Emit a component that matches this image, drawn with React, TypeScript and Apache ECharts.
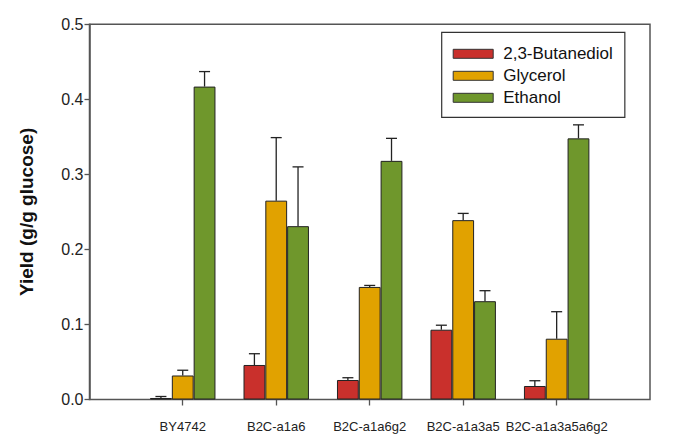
import React, { useEffect, useRef } from "react";
import * as echarts from "echarts";

const categories = ["BY4742", "B2C-a1a6", "B2C-a1a6g2", "B2C-a1a3a5", "B2C-a1a3a5a6g2"];
const seriesNames = ["2,3-Butanediol", "Glycerol", "Ethanol"];
const butanediol = [0.002, 0.046, 0.026, 0.093, 0.018];
const butanediolErr = [0.002, 0.015, 0.003, 0.006, 0.007];
const glycerol = [0.032, 0.265, 0.15, 0.239, 0.081];
const glycerolErr = [0.007, 0.084, 0.002, 0.009, 0.036];
const ethanol = [0.417, 0.231, 0.318, 0.131, 0.348];
const ethanolErr = [0.02, 0.079, 0.03, 0.014, 0.018];
const yTicks = [0, 0.1, 0.2, 0.3, 0.4, 0.5];
const colors = ["#C9302C", "#E1A200", "#6F972C"];

const values = [butanediol, glycerol, ethanol];
const errors = [butanediolErr, glycerolErr, ethanolErr];

export default function App() {
  const ref = useRef<HTMLDivElement>(null);
  useEffect(() => {
    if (!ref.current) return;
    const chart = echarts.init(ref.current, null, { renderer: "svg" });
    const barSeries = seriesNames.map((name, i) => ({
      name,
      type: "bar",
      data: values[i],
      barGap: "0%",
      barCategoryGap: "30%",
      itemStyle: { color: colors[i], borderColor: "#222", borderWidth: 1 },
      z: 2,
    }));
    const errSeries = seriesNames.map((name, i) => ({
      name: name + " err",
      type: "custom",
      z: 3,
      data: values[i].map((v, j) => [j, v, v + errors[i][j]]),
      renderItem: (params: any, api: any) => {
        const x = api.value(0);
        const v = api.value(1);
        const hi = api.value(2);
        const base = api.coord([x, v]);
        const top = api.coord([x, hi]);
        const band = api.size([1, 0])[0];
        const bw = (band * 0.7) / 3;
        const cx = base[0] + (i - 1) * bw;
        const st = { stroke: "#222", lineWidth: 1.3 };
        return {
          type: "group",
          children: [
            { type: "line", shape: { x1: cx, y1: base[1], x2: cx, y2: top[1] }, style: st },
            { type: "line", shape: { x1: cx - 5.5, y1: top[1], x2: cx + 5.5, y2: top[1] }, style: st },
          ],
        };
      },
    }));
    chart.setOption({
      animation: false,
      graphic: [
        {
          type: "rect",
          shape: { x: 89.5, y: 24.3, width: 560.5, height: 375.2 },
          style: { fill: "none", stroke: "#555", lineWidth: 1.5 },
          z: 1,
        },
      ],
      grid: { left: 136, right: 81.6, top: 24.3, bottom: 44.5 },
      legend: {
        data: seriesNames,
        orient: "vertical",
        left: 441.7,
        top: 32.3,
        padding: [13, 12, 11, 11],
        borderColor: "#333",
        borderWidth: 1.2,
        backgroundColor: "#fff",
        itemWidth: 40,
        itemHeight: 9,
        itemGap: 5,
        icon: "rect",
        itemStyle: { borderColor: "#333", borderWidth: 1 },
        textStyle: { fontSize: 17, fontFamily: "Liberation Sans, Arial", color: "#111", padding: [0, 0, 0, 5] },
      },
      xAxis: {
        type: "category",
        data: categories,
        axisLine: { show: false },
        axisTick: { show: true, alignWithLabel: true, length: 6, lineStyle: { color: "#555", width: 1.3 } },
        axisLabel: {
          interval: 0,
          hideOverlap: false,
          fontSize: 13,
          fontFamily: "Liberation Sans, Arial",
          color: "#222",
          margin: 20,
        },
      },
      yAxis: {
        type: "value",
        min: 0,
        max: 0.5,
        interval: 0.1,
        offset: 46.5,
        name: "Yield (g/g glucose)",
        nameLocation: "middle",
        nameGap: 54,
        nameTextStyle: { fontSize: 19, fontWeight: "bold", fontFamily: "Liberation Sans, Arial", color: "#111" },
        axisLine: { show: true, lineStyle: { color: "#555", width: 1.5 } },
        axisTick: { show: true, length: 5, lineStyle: { color: "#555", width: 1.3 } },
        splitLine: { show: false },
        axisLabel: {
          fontSize: 16,
          fontFamily: "Liberation Sans, Arial",
          color: "#222",
          margin: 6,
          formatter: (v: number) => (yTicks.includes(Math.round(v * 10) / 10) ? v.toFixed(1) : ""),
        },
      },
      series: [...barSeries, ...errSeries],
    });
    return () => chart.dispose();
  }, []);
  return <div ref={ref} style={{ position: "absolute", left: 0, top: 0, width: 685, height: 444 }} />;
}
